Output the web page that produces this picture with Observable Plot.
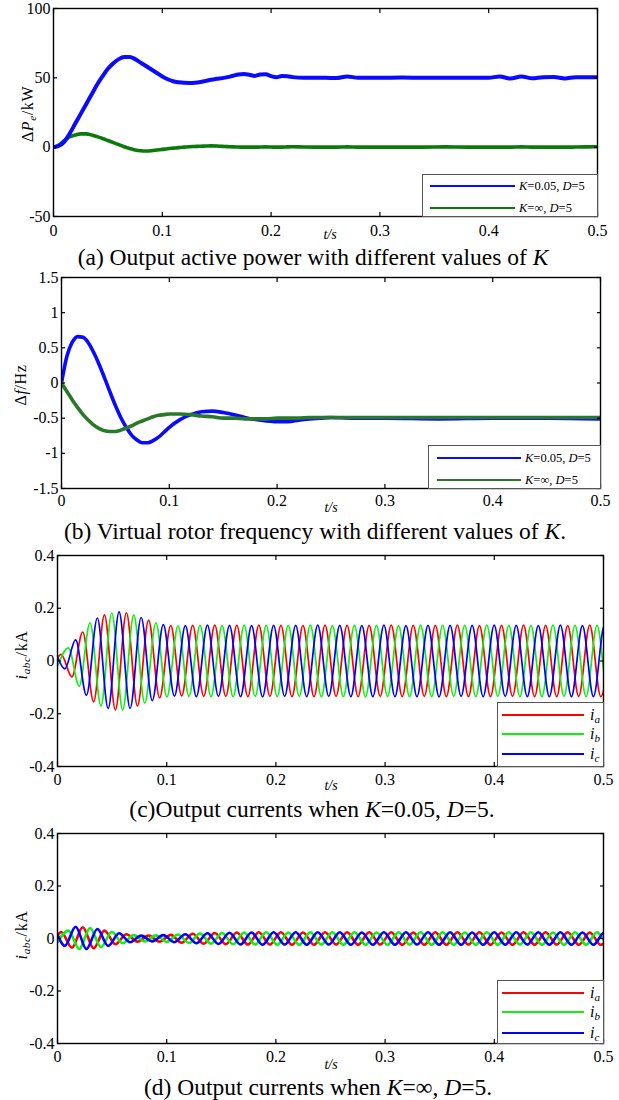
<!DOCTYPE html>
<html><head><meta charset="utf-8">
<script src="https://cdn.jsdelivr.net/npm/d3@7"></script>
<script src="https://cdn.jsdelivr.net/npm/@observablehq/plot@0.6"></script>
<style>
body{margin:0;background:#fff;}
#root{position:relative;width:619px;height:1100px;background:#fff;font-family:"Liberation Serif","Times New Roman",serif;color:#000;overflow:hidden}
#root svg text{font-family:"Liberation Serif","Times New Roman",serif !important;}
.abs{position:absolute;white-space:nowrap;line-height:1}
.cap{font-size:23.5px;transform:translate(-50%,-50%)}
.ylab{font-size:16px;letter-spacing:0.6px;transform:translate(-50%,-50%) rotate(-90deg)}
.xlab{font-size:14px;font-style:italic;transform:translate(-50%,-50%)}
.leg{border:1px solid #555;background:#fff;box-sizing:border-box}
sub{font-size:70%;vertical-align:-0.25em;line-height:0}
</style></head><body><div id="root"></div>
<script>
// ---------------- data ----------------
const xTicks = [0, 0.1, 0.2, 0.3, 0.4, 0.5];
const yTicksA = [-50, 0, 50, 100];
const yTicksB = [-1.5, -1, -0.5, 0, 0.5, 1, 1.5];
const yTicksI = [-0.4, -0.2, 0, 0.2, 0.4];

// (a) output active power, kW
const tP = [0,0.005,0.01,0.015,0.02,0.025,0.03,0.035,0.04,0.045,0.05,0.055,0.06,0.065,0.07,0.075,0.08,0.085,0.09,0.095,0.1,0.105,0.11,0.115,0.12,0.125,0.13,0.135,0.14,0.145,0.15,0.155,0.16,0.165,0.17,0.175,0.18,0.185,0.19,0.195,0.2,0.205,0.21,0.215,0.22,0.23,0.24,0.25,0.26,0.27,0.28,0.29,0.3,0.32,0.34,0.36,0.38,0.4,0.41,0.42,0.43,0.44,0.45,0.46,0.47,0.48,0.5];
const pK005 = [0,1,4,10,17,24,31,38,45,51,56.5,60.5,63.5,65,65,63.5,61,58.5,56,53.5,51,49,47.5,46.8,46.4,46.3,46.5,47,47.8,48.6,49.3,49.8,50.5,51.5,52.4,52.8,52.2,51.4,52.4,52.6,51.2,50.4,51.3,51.2,50.5,50,50,50,49.8,51,50,50,50,50.2,50,50,50,50,51,49.5,51,49.7,50.5,50.6,49.6,50.4,50.5];
const pKinf  = [0,1.5,4.8,7.5,8.8,9.6,9.6,8.8,7.6,6.3,4.8,3.3,1.8,0.3,-1,-2,-2.6,-2.8,-2.6,-2.1,-1.6,-1.1,-0.7,-0.3,0,0.3,0.5,0.7,0.8,0.9,0.8,0.6,0.4,0.2,0.1,0,0,0,0.1,0.2,0.1,0,0,0.2,0.3,0.1,0,0,0,0.2,0,0,0,0,0,0.2,0,0,0,0,0.2,0,0,0,0,0.1,0.3];

// (b) virtual rotor frequency deviation, Hz
const tF = [0,0.005,0.01,0.015,0.02,0.025,0.03,0.035,0.04,0.045,0.05,0.055,0.06,0.065,0.07,0.075,0.08,0.085,0.09,0.095,0.1,0.11,0.12,0.13,0.14,0.15,0.16,0.17,0.18,0.19,0.2,0.21,0.22,0.23,0.24,0.25,0.27,0.3,0.35,0.4,0.45,0.5];
const fK005 = [0,0.38,0.58,0.66,0.65,0.57,0.43,0.26,0.07,-0.13,-0.32,-0.49,-0.63,-0.74,-0.81,-0.85,-0.85,-0.82,-0.77,-0.7,-0.63,-0.52,-0.45,-0.41,-0.4,-0.42,-0.45,-0.49,-0.52,-0.54,-0.55,-0.55,-0.53,-0.51,-0.5,-0.49,-0.5,-0.5,-0.51,-0.5,-0.5,-0.51];
const fKinf  = [0,-0.12,-0.24,-0.35,-0.45,-0.53,-0.6,-0.65,-0.68,-0.69,-0.69,-0.67,-0.64,-0.61,-0.57,-0.54,-0.51,-0.48,-0.46,-0.45,-0.44,-0.44,-0.45,-0.47,-0.48,-0.5,-0.5,-0.51,-0.51,-0.51,-0.5,-0.5,-0.5,-0.49,-0.49,-0.49,-0.49,-0.49,-0.49,-0.49,-0.49,-0.49];

// (c),(d) phase currents: times of successive extrema of i_a (s); i_b / i_c extrema follow by a fixed lag
const tExtA = [0.0033,0.0132,0.0231,0.0331,0.0430,0.0530,0.0631,0.0732,0.0834,0.0935,0.1037,0.1137,0.1238,0.1339,0.1440,0.1541,0.1642,0.1743,0.1844,0.1945,0.2046,0.2147,0.2248,0.2349,0.2450,0.2551,0.2652,0.2753,0.2854,0.2955,0.3056,0.3157,0.3258,0.3359,0.3460,0.3561,0.3662,0.3763,0.3864,0.3965,0.4066,0.4167,0.4268,0.4369,0.4470,0.4571,0.4672,0.4773,0.4874,0.4975,0.5076];
const lagB = 0.0067, lagC = 0.0034;
const phaseNames = ["a", "b", "c"];
// values at t = 0
const i0C = [0.012, -0.02, 0.015];
const i0D = [0.012, -0.015, 0.015];
// extrema values, kA — K=0.05
const iaC = [0.025,-0.06,0.11,-0.155,0.175,-0.185,0.183,-0.17,0.155,-0.14, 0.134,-0.132,0.135,-0.134,0.136,-0.134,0.135,-0.135,0.136,-0.134, 0.135,-0.135,0.134,-0.135,0.136,-0.134,0.135,-0.135,0.135,-0.134, 0.136,-0.135,0.135,-0.134,0.135,-0.135,0.136,-0.135,0.134,-0.135, 0.135,-0.134,0.136,-0.135,0.135,-0.135,0.134,-0.134,0.136,-0.135, 0.135];
const ibC = [0.05,-0.095,0.145,-0.17,0.182,-0.185,0.175,-0.16,0.145,-0.136, 0.133,-0.134,0.135,-0.135,0.134,-0.135,0.136,-0.134,0.135,-0.135, 0.135,-0.134,0.136,-0.135,0.134,-0.135,0.135,-0.136,0.135,-0.134, 0.134,-0.135,0.136,-0.135,0.135,-0.134,0.135,-0.135,0.136,-0.134, 0.135,-0.135,0.134,-0.135,0.136,-0.134,0.135,-0.135,0.135,-0.134, 0.136];
const icC = [-0.03,0.08,-0.13,0.163,-0.18,0.186,-0.18,0.165,-0.15,0.138, -0.133,0.134,-0.135,0.136,-0.134,0.135,-0.135,0.134,-0.136,0.135, -0.134,0.135,-0.135,0.136,-0.134,0.135,-0.135,0.134,-0.135,0.136, -0.135,0.134,-0.135,0.135,-0.136,0.135,-0.134,0.135,-0.135,0.136, -0.134,0.135,-0.135,0.134,-0.135,0.136,-0.135,0.134,-0.135,0.135, -0.134];
// extrema values, kA — K=∞
const iaD = [0.025,-0.035,0.043,-0.037,0.03,-0.022,0.016,-0.012,0.011,-0.012, 0.014,-0.016,0.018,-0.02,0.021,-0.022,0.023,-0.023,0.024,-0.023, 0.024,-0.024,0.023,-0.024,0.024,-0.023,0.024,-0.024,0.024,-0.023, 0.024,-0.024,0.023,-0.024,0.024,-0.024,0.024,-0.023,0.024,-0.024, 0.023,-0.024,0.024,-0.024,0.024,-0.023,0.024,-0.024,0.023,-0.024, 0.024];
const ibD = [0.03,-0.04,0.04,-0.033,0.025,-0.018,0.013,-0.011,0.012,-0.013, 0.015,-0.017,0.019,-0.02,0.021,-0.022,0.023,-0.023,0.024,-0.024, 0.023,-0.024,0.024,-0.023,0.024,-0.024,0.024,-0.024,0.023,-0.024, 0.024,-0.023,0.024,-0.024,0.024,-0.024,0.023,-0.024,0.024,-0.024, 0.024,-0.023,0.024,-0.024,0.023,-0.024,0.024,-0.024,0.024,-0.023, 0.024];
const icD = [-0.028,0.045,-0.04,0.036,-0.028,0.02,-0.014,0.011,-0.011,0.013, -0.014,0.016,-0.018,0.02,-0.021,0.022,-0.023,0.023,-0.024,0.024, -0.023,0.024,-0.024,0.024,-0.023,0.024,-0.024,0.023,-0.024,0.024, -0.024,0.024,-0.023,0.024,-0.024,0.024,-0.024,0.023,-0.024,0.024, -0.024,0.024,-0.023,0.024,-0.024,0.024,-0.024,0.023,-0.024,0.024, -0.024];

const legendK = ["<i>K</i>=0.05, <i>D</i>=5", "<i>K</i>=∞, <i>D</i>=5"];
const legendI = ["<i>i<sub>a</sub></i>", "<i>i<sub>b</sub></i>", "<i>i<sub>c</sub></i>"];
const captions = [
  "(a) Output active power with different values of <i>K</i>",
  "(b) Virtual rotor frequency with different values of <i>K</i>.",
  "(c)Output currents when <i>K</i>=0.05, <i>D</i>=5.",
  "(d) Output currents when <i>K</i>=∞, <i>D</i>=5."
];
const yTitles = ["Δ<i>P</i><sub><i>e</i></sub>/kW", "Δ<i>f</i>/Hz", "<i>i</i><sub><i>abc</i></sub>/kA", "<i>i</i><sub><i>abc</i></sub>/kA"];
const xTitle = "t/s";

// ---------------- drawing ----------------
const root = document.getElementById("root");
const colBlue = "#0a0aff", colGreenDark = "#0b7a0b", colGreenDark2 = "#2a782a";
const colR = "#ff0000", colG = "#11ee11", colB = "#0000ff";

function zip(t, v) { return t.map((x, i) => ({t: x, v: v[i]})); }
function phase(start, vals, lag) {
  return [{t: 0, v: start}, ...vals.map((v, i) => ({t: tExtA[i] + lag, v}))];
}

function panel(cfg) {
  const {top, frameTop, frameBottom, left, right, yDomain, yTicks, xPad, marks} = cfg;
  const h = frameBottom - top + 28;
  const fig = Plot.plot({
    width: 619, height: h,
    marginTop: frameTop - top, marginBottom: h - (frameBottom - top),
    marginLeft: left, marginRight: 619 - right,
    x: {domain: [0, 0.5]},
    y: {domain: yDomain},
    style: "font-family: 'Liberation Serif', 'Times New Roman', serif; font-size: 16px; color: black; background: transparent; overflow: visible;",
    marks: [
      ...marks,
      Plot.axisX(xTicks, {anchor: "bottom", tickSize: -4, tickPadding: xPad, tickFormat: d => String(d), label: null, strokeWidth: 1.2}),
      Plot.axisX(xTicks, {anchor: "top", tickSize: -4, tickFormat: () => "", label: null, strokeWidth: 1.2}),
      Plot.axisY(yTicks, {anchor: "left", tickSize: -4, tickPadding: 7, tickFormat: d => String(d), label: null, strokeWidth: 1.2}),
      Plot.axisY(yTicks, {anchor: "right", tickSize: -4, tickFormat: () => "", label: null, strokeWidth: 1.2}),
      Plot.frame({stroke: "black", strokeWidth: 1.4})
    ]
  });
  const wrap = document.createElement("div");
  wrap.style.cssText = `position:absolute;left:0;top:${top}px;`;
  wrap.appendChild(fig);
  root.appendChild(wrap);
}

function addText(cls, html, x, y) {
  const d = document.createElement("div");
  d.className = "abs " + cls;
  d.style.left = x + "px"; d.style.top = y + "px";
  d.innerHTML = html;
  root.appendChild(d);
}

function legend(box, items, fontSize) {
  const d = document.createElement("div");
  d.className = "abs leg";
  d.style.cssText += `left:${box.x}px;top:${box.y}px;width:${box.w}px;height:${box.h}px;`;
  items.forEach(it => {
    const ln = document.createElement("div");
    ln.style.cssText = `position:absolute;left:${it.x1}px;width:${it.x2 - it.x1}px;top:${it.y - it.sw / 2}px;height:${it.sw}px;background:${it.color};`;
    d.appendChild(ln);
    const tx = document.createElement("div");
    tx.style.cssText = `position:absolute;left:${it.tx}px;top:${it.y}px;transform:translateY(-50%);font-size:${fontSize}px;white-space:nowrap;line-height:1;`;
    tx.innerHTML = it.html;
    d.appendChild(tx);
  });
  root.appendChild(d);
}

// (a)
panel({
  top: 0, frameTop: 8, frameBottom: 216, left: 53, right: 597,
  yDomain: [-50, 100], yTicks: yTicksA, xPad: 12,
  marks: [
    Plot.line(zip(tP, pKinf), {x: "t", y: "v", stroke: colGreenDark, strokeWidth: 3.6, curve: "monotone-x", clip: true}),
    Plot.line(zip(tP, pK005), {x: "t", y: "v", stroke: colBlue, strokeWidth: 4, curve: "monotone-x", clip: true})
  ]
});
// (b)
panel({
  top: 268, frameTop: 277, frameBottom: 488, left: 61, right: 600,
  yDomain: [-1.5, 1.5], yTicks: yTicksB, xPad: 10,
  marks: [
    Plot.line(zip(tF, fK005), {x: "t", y: "v", stroke: colBlue, strokeWidth: 3.6, curve: "monotone-x", clip: true}),
    Plot.line(zip(tF, fKinf), {x: "t", y: "v", stroke: colGreenDark2, strokeWidth: 3.6, curve: "monotone-x", clip: true})
  ]
});
// (c)
const lags = [0, lagB, lagC];
const colsI = [colR, colG, colB];
const setC = [iaC, ibC, icC], setD = [iaD, ibD, icD];
panel({
  top: 546, frameTop: 555, frameBottom: 766, left: 57, right: 603,
  yDomain: [-0.4, 0.4], yTicks: yTicksI, xPad: 11,
  marks: phaseNames.map((p, k) =>
    Plot.line(phase(i0C[k], setC[k], lags[k]), {x: "t", y: "v", stroke: colsI[k], strokeWidth: 1.7, curve: "monotone-x", clip: true}))
});
// (d)
panel({
  top: 824, frameTop: 833, frameBottom: 1043, left: 57, right: 603,
  yDomain: [-0.4, 0.4], yTicks: yTicksI, xPad: 11,
  marks: phaseNames.map((p, k) =>
    Plot.line(phase(i0D[k], setD[k], lags[k]), {x: "t", y: "v", stroke: colsI[k], strokeWidth: 2.6, curve: "monotone-x", clip: true}))
});

// axis titles
addText("ylab", yTitles[0], 28, 114);
addText("ylab", yTitles[1], 21, 385);
addText("ylab", yTitles[2], 22, 655);
addText("ylab", yTitles[3], 22, 935);
addText("xlab", xTitle, 330, 235);
addText("xlab", xTitle, 331, 508);
addText("xlab", xTitle, 331, 786);
addText("xlab", xTitle, 331, 1065);
// captions
addText("cap", captions[0], 313, 258);
addText("cap", captions[1], 315, 532);
addText("cap", captions[2], 312, 810);
addText("cap", captions[3], 318, 1088);

// legends
legend({x: 422, y: 174, w: 176, h: 43}, [
  {x1: 7, x2: 92, y: 11, sw: 2, color: colBlue, tx: 96, html: legendK[0]},
  {x1: 7, x2: 92, y: 33, sw: 2, color: colGreenDark, tx: 96, html: legendK[1]}
], 12.5);
legend({x: 428, y: 445, w: 173, h: 44}, [
  {x1: 8, x2: 92, y: 12, sw: 2.6, color: colBlue, tx: 96, html: legendK[0]},
  {x1: 8, x2: 92, y: 34, sw: 2.6, color: colGreenDark2, tx: 96, html: legendK[1]}
], 12.5);
legend({x: 497, y: 702, w: 107, h: 65}, [
  {x1: 4, x2: 86, y: 12, sw: 1.6, color: colR, tx: 92, html: legendI[0]},
  {x1: 4, x2: 86, y: 31, sw: 1.6, color: colG, tx: 92, html: legendI[1]},
  {x1: 4, x2: 86, y: 51, sw: 1.6, color: colB, tx: 92, html: legendI[2]}
], 16);
legend({x: 497, y: 980, w: 107, h: 64}, [
  {x1: 4, x2: 86, y: 12, sw: 1.6, color: colR, tx: 92, html: legendI[0]},
  {x1: 4, x2: 86, y: 31, sw: 1.6, color: colG, tx: 92, html: legendI[1]},
  {x1: 4, x2: 86, y: 52, sw: 1.6, color: colB, tx: 92, html: legendI[2]}
], 16);
</script></body></html>
